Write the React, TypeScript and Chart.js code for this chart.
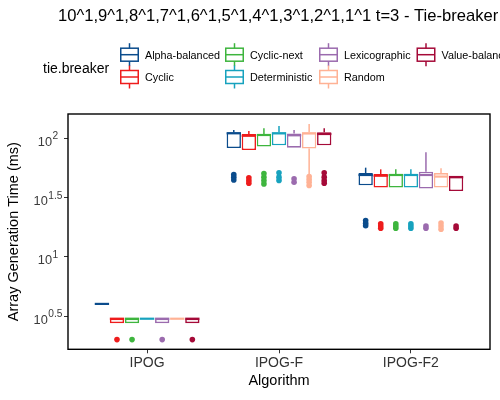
import React, { useEffect, useRef } from 'react';
import { Chart, registerables } from 'chart.js';

Chart.register(...registerables);

const FONT = "'Liberation Sans', Arial, Helvetica, sans-serif";

const TITLE = '10^1,9^1,8^1,7^1,6^1,5^1,4^1,3^1,2^1,1^1 t=3 - Tie-breaker';
const X_TITLE = 'Algorithm';
const Y_TITLE = 'Array Generation Time (ms)';
const LEGEND_TITLE = 'tie.breaker';

const CATEGORIES = ['IPOG', 'IPOG-F', 'IPOG-F2'];
const SERIES_NAMES = ['Alpha-balanced', 'Cyclic', 'Cyclic-next', 'Deterministic', 'Lexicographic', 'Random', 'Value-balanced'];
const SERIES_COLORS = ['#0B4C8C', '#EE1C1C', '#3EB53E', '#17A2BE', '#9B6BAE', '#FFB295', '#A50A38'];

// per category: [lower whisker, Q1, median, Q3, upper whisker]
const ALPHA_BALANCED = [[4, 4, 4, 4, 4], [82.8, 82.8, 110.2, 112.2, 117.5], [40.1, 40.1, 49, 50.9, 56.5]];
const CYCLIC = [[2.75, 2.75, 3, 3, 3], [79.6, 79.6, 105, 108.7, 115.3], [38.4, 38.4, 48.3, 49.9, 54.7]];
const CYCLIC_NEXT = [[2.75, 2.75, 3, 3, 3], [85.2, 85.2, 106.6, 108.7, 121.5], [38.4, 38.4, 49, 49.9, 54.7]];
const DETERMINISTIC = [[3, 3, 3, 3, 3], [87.3, 87.3, 110, 112.2, 127], [38.4, 38.4, 49, 49.9, 54.7]];
const LEXICOGRAPHIC = [[2.75, 2.75, 3, 3, 3], [83.4, 83.4, 106, 110, 117.5], [37.6, 37.6, 49, 52.3, 76.2]];
const RANDOM = [[3, 3, 3, 3, 3], [49.4, 81.9, 109.8, 112.2, 132], [38.4, 38.4, 47.5, 50.9, 55.8]];
const VALUE_BALANCED = [[2.75, 2.75, 3, 3, 3], [87.3, 87.3, 108.7, 112.2, 121.5], [35.9, 35.9, 46.9, 48.3, 48.3]];

// outlier values per category
const ALPHA_BALANCED_OUT = [[], [44.5, 47, 49.4], [18.3, 19.2, 20.2]];
const CYCLIC_OUT = [[2], [41.8, 44, 46.4], [17.4, 18.2, 19]];
const CYCLIC_NEXT_OUT = [[2], [41.2, 44, 47, 50.5], [17.4, 18.2, 19]];
const DETERMINISTIC_OUT = [[], [44.1, 47, 51.2], [17.4, 18.2, 19]];
const LEXICOGRAPHIC_OUT = [[2], [42.6, 45.5], [17.4, 18.2]];
const RANDOM_OUT = [[], [40, 42.5, 45, 47.5], [17.1, 18.2, 19.3]];
const VALUE_BALANCED_OUT = [[2], [41.8, 44, 47, 51.2], [17.4, 18.2]];

const SERIES_STATS = [ALPHA_BALANCED, CYCLIC, CYCLIC_NEXT, DETERMINISTIC, LEXICOGRAPHIC, RANDOM, VALUE_BALANCED];
const SERIES_OUTLIERS = [ALPHA_BALANCED_OUT, CYCLIC_OUT, CYCLIC_NEXT_OUT, DETERMINISTIC_OUT, LEXICOGRAPHIC_OUT, RANDOM_OUT, VALUE_BALANCED_OUT];

const Y_TICK_EXPONENTS = ['0.5', '1', '1.5', '2'];
const Y_MIN_EXP = 0.219;
const Y_MAX_EXP = 2.205;

// legend layout (column-major, 2 rows)
const LEGEND_COL_X = [120, 225, 319, 416.5];
const LEGEND_ROW_Y = [54.7, 77];

function line(ctx: CanvasRenderingContext2D, x1: number, y1: number, x2: number, y2: number) {
  ctx.beginPath();
  ctx.moveTo(x1, y1);
  ctx.lineTo(x2, y2);
  ctx.stroke();
}

const boxPlugin = {
  id: 'boxExtras',
  afterDatasetsDraw(chart: any) {
    const ctx: CanvasRenderingContext2D = chart.ctx;
    const ys = chart.scales.y;
    SERIES_STATS.forEach((stats, di) => {
      const meta = chart.getDatasetMeta(di);
      const color = SERIES_COLORS[di];
      meta.data.forEach((el: any, ci: number) => {
        const { x, width } = el.getProps(['x', 'width'], true);
        const [lo, q1, med, q3, hi] = stats[ci];
        ctx.save();
        ctx.strokeStyle = color;
        ctx.lineWidth = 1.5;
        if (hi > q3) line(ctx, x, ys.getPixelForValue(q3), x, ys.getPixelForValue(hi));
        if (lo < q1) line(ctx, x, ys.getPixelForValue(q1), x, ys.getPixelForValue(lo));
        ctx.lineWidth = 2.2;
        const ym = ys.getPixelForValue(med);
        line(ctx, x - width / 2, ym, x + width / 2, ym);
        ctx.fillStyle = color;
        SERIES_OUTLIERS[di][ci].forEach((v) => {
          ctx.beginPath();
          ctx.arc(x, ys.getPixelForValue(v), 2.8, 0, Math.PI * 2);
          ctx.fill();
        });
        ctx.restore();
      });
    });
  },
  afterDraw(chart: any) {
    const ctx: CanvasRenderingContext2D = chart.ctx;
    const area = chart.chartArea;
    const ys = chart.scales.y;
    ctx.save();
    // panel border
    ctx.strokeStyle = '#000';
    ctx.lineWidth = 1.4;
    ctx.strokeRect(area.left, area.top, area.right - area.left, area.bottom - area.top);

    // y tick labels with superscript exponents
    ctx.fillStyle = '#3a3a3a';
    ctx.textAlign = 'left';
    ctx.textBaseline = 'alphabetic';
    Y_TICK_EXPONENTS.forEach((e) => {
      const py = ys.getPixelForValue(Math.pow(10, Number(e)));
      ctx.font = `12.8px ${FONT}`;
      const w1 = ctx.measureText('10').width;
      ctx.font = `10.2px ${FONT}`;
      const w2 = ctx.measureText(e).width;
      const cx = 48;
      const x0 = cx - (w1 + w2 + 0.5) / 2;
      ctx.font = `12.8px ${FONT}`;
      ctx.fillText('10', x0, py + 7.5);
      ctx.font = `10.2px ${FONT}`;
      ctx.fillText(e, x0 + w1 + 0.5, py + 1.2);
    });

    // title
    ctx.fillStyle = '#000';
    ctx.font = `16.6px ${FONT}`;
    ctx.fillText(TITLE, 58, 21);

    // legend
    ctx.font = `14px ${FONT}`;
    ctx.fillText(LEGEND_TITLE, 43, 72.5);
    SERIES_NAMES.forEach((name, i) => {
      const col = Math.floor(i / 2);
      const row = i % 2;
      const kx = LEGEND_COL_X[col];
      const ky = LEGEND_ROW_Y[row];
      const color = SERIES_COLORS[i];
      ctx.strokeStyle = color;
      ctx.lineWidth = 1.5;
      ctx.fillStyle = '#fff';
      ctx.fillRect(kx, ky - 6.5, 19, 13);
      ctx.strokeRect(kx + 0.75, ky - 6.5, 17.5, 13);
      line(ctx, kx + 0.75, ky, kx + 18.25, ky);
      line(ctx, kx + 9.5, ky - 11.5, kx + 9.5, ky - 6.5);
      line(ctx, kx + 9.5, ky + 6.5, kx + 9.5, ky + 11.5);
      ctx.fillStyle = '#000';
      ctx.font = `10.8px ${FONT}`;
      ctx.fillText(name, kx + 25, ky + 4);
    });
    ctx.restore();
  },
};

export default function App() {
  const ref = useRef<HTMLCanvasElement | null>(null);
  useEffect(() => {
    if (!ref.current) return;
    Chart.defaults.font.family = FONT;
    const chart = new Chart(ref.current, {
      type: 'bar',
      data: {
        labels: CATEGORIES,
        datasets: SERIES_NAMES.map((name, i) => ({
          label: name,
          data: SERIES_STATS[i].map((s) => [s[1], s[3]]),
          backgroundColor: '#ffffff',
          borderColor: SERIES_COLORS[i],
          borderWidth: 1.6,
          borderSkipped: false,
          categoryPercentage: 0.8,
          barPercentage: 0.95,
        })) as any,
      },
      options: {
        responsive: false,
        animation: false,
        devicePixelRatio: 1,
        layout: { padding: { top: 114, right: 10, left: 0, bottom: 0 } },
        plugins: { legend: { display: false }, tooltip: { enabled: false }, title: { display: false } },
        scales: {
          x: {
            type: 'category',
            offset: true,
            afterBuildTicks: (scale: any) => {
              scale._startValue = -0.6;
              scale._valueRange = CATEGORIES.length + 0.2;
            },
            afterFit: (scale: any) => {
              scale.height = 50.7;
            },
            grid: { display: true, drawOnChartArea: false, drawTicks: true, tickLength: 4, offset: false, color: '#333', lineWidth: 1 },
            border: { display: false },
            ticks: { color: '#333', font: { size: 14, family: FONT }, padding: 1, maxRotation: 0, autoSkip: false },
            title: { display: true, text: X_TITLE, color: '#000', font: { size: 14.5, family: FONT, lineHeight: 1.2 }, padding: { top: 0, bottom: 10 } },
          },
          y: {
            type: 'logarithmic',
            min: Math.pow(10, Y_MIN_EXP),
            max: Math.pow(10, Y_MAX_EXP),
            bounds: 'data',
            afterBuildTicks: (scale: any) => {
              scale.ticks = Y_TICK_EXPONENTS.map((e) => ({ value: Math.pow(10, Number(e)) }));
            },
            afterFit: (scale: any) => {
              scale.width = 68;
            },
            grid: { display: true, drawOnChartArea: false, drawTicks: true, tickLength: 4, color: '#333', lineWidth: 1 },
            border: { display: false },
            ticks: { callback: () => '', autoSkip: false },
            title: { display: true, text: Y_TITLE, color: '#000', font: { size: 14.5, family: FONT, lineHeight: 1.2 }, padding: { top: 5, bottom: 0 } },
          },
        },
      } as any,
      plugins: [boxPlugin],
    });
    return () => chart.destroy();
  }, []);
  return (
    <div style={{ position: 'absolute', left: 0, top: 0, width: 500, height: 400, background: '#fff' }}>
      <canvas ref={ref} width={500} height={400} style={{ width: 500, height: 400, display: 'block' }} />
    </div>
  );
}
